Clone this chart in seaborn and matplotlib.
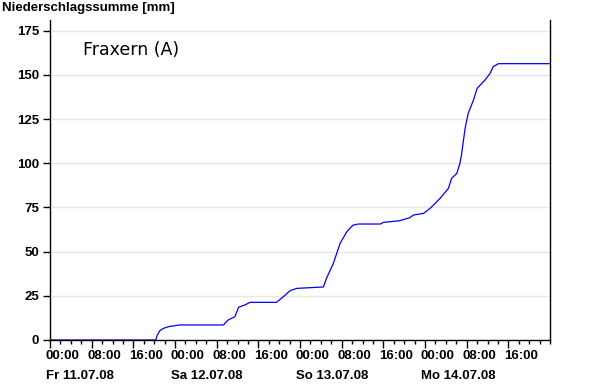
import matplotlib
matplotlib.use("Agg")
import matplotlib.pyplot as plt
import matplotlib.dates as mdates
import matplotlib.transforms as mtransforms
import pandas as pd
import seaborn as sns

station = "Fraxern (A)"
ylabel = "Niederschlagssumme [mm]"
start = "2008-07-11 00:00"
day_labels = ["Fr 11.07.08", "Sa 12.07.08", "So 13.07.08", "Mo 14.07.08"]

# hours since Fr 00:00 and accumulated precipitation (mm)
hours = [0, 20.3, 20.6, 21.1, 21.8, 22.7, 24.8, 33.3, 34.2, 35.5, 36.2, 37.4,
         38.4, 43.5, 44.8, 46.1, 47.4, 52.5, 53.1, 54.4, 55.7, 57.0, 58.2,
         59.2, 63.4, 64.0, 67.2, 69.1, 69.8, 71.7, 73.0, 74.9, 76.5, 77.1,
         78.1, 78.7, 79.0, 79.7, 80.3, 81.3, 82.0, 83.5, 84.5, 85.1, 86.1, 96]
precip = [0, 0, 2.8, 5.3, 6.6, 7.5, 8.5, 8.5, 11.3, 13.2, 18.5, 19.8,
          21.3, 21.3, 24.5, 27.9, 29.2, 30.0, 35.0, 43.3, 54.7, 61.3, 65.0,
          65.6, 65.6, 66.5, 67.5, 69.2, 70.7, 71.6, 74.5, 80.1, 85.8, 91.4,
          94.2, 99.9, 104.6, 119.7, 128.2, 135.7, 142.3, 147.0, 150.8, 154.6, 156.3, 156.3]

t0 = pd.Timestamp(start)
df = pd.DataFrame({"time": t0 + pd.to_timedelta(hours, unit="h"), "mm": precip})

sns.set_style("white")
plt.rcParams["font.family"] = ["Liberation Sans", "DejaVu Sans"]
plt.rcParams["text.color"] = "black"
plt.rcParams["xtick.color"] = "black"
plt.rcParams["ytick.color"] = "black"

fig = plt.figure(figsize=(6, 3.85), dpi=100)
ax = fig.add_axes([50 / 600, 1 - 340 / 385, 500 / 600, 320 / 385])

sns.lineplot(data=df, x="time", y="mm", color="#0000ff", linewidth=0.9, ax=ax)

ax.set_xlim(t0, t0 + pd.Timedelta(hours=96))
ax.set_ylim(0, 181)
ax.set_yticks(range(0, 176, 25))
ax.yaxis.grid(True, color="#e8e8e8", linewidth=1)
ax.xaxis.grid(False)

major = pd.date_range(t0, periods=12, freq="8h")
ax.set_xticks(major)
ax.set_xticklabels([d.strftime("%H:%M") for d in major])
ax.xaxis.set_minor_locator(mdates.HourLocator(interval=2))

ax.set_xlabel("")
ax.set_ylabel("")

for side in ["left", "bottom", "right"]:
    ax.spines[side].set_visible(True)
    ax.spines[side].set_color("black")
    ax.spines[side].set_linewidth(1)
ax.spines["top"].set_visible(False)

ax.tick_params(axis="x", which="major", bottom=True, direction="out", length=6,
               width=1, color="black", labelcolor="black", pad=1, labelsize=9.5)
ax.tick_params(axis="x", which="minor", bottom=True, direction="out", length=3,
               width=1, color="black")
ax.tick_params(axis="y", left=True, direction="out", length=5, width=1,
               color="black", labelcolor="black", pad=3, labelsize=9.5)

offset = mtransforms.ScaledTranslation(-3 / 72, 0, fig.dpi_scale_trans)
for lab in ax.get_xticklabels():
    lab.set_ha("left")
    lab.set_fontweight("bold")
    lab.set_transform(lab.get_transform() + offset)
for lab in ax.get_yticklabels():
    lab.set_fontweight("bold")

trans = mtransforms.blended_transform_factory(ax.transData, fig.transFigure)
for i, day in enumerate(day_labels):
    ax.text(mdates.date2num(t0 + pd.Timedelta(days=i)), 1 - 376 / 385, day,
            transform=trans + offset, ha="left", va="center",
            fontsize=9.5, fontweight="bold", color="black")

ax.text(0.066, 0.906, station, transform=ax.transAxes, ha="left", va="center",
        fontsize=12.5, family=["DejaVu Sans"], color="black")

fig.text(2 / 600, 1 - 8 / 385, ylabel, ha="left", va="center",
         fontsize=9.5, fontweight="bold", color="black")

fig.savefig("out.png", dpi=100)
